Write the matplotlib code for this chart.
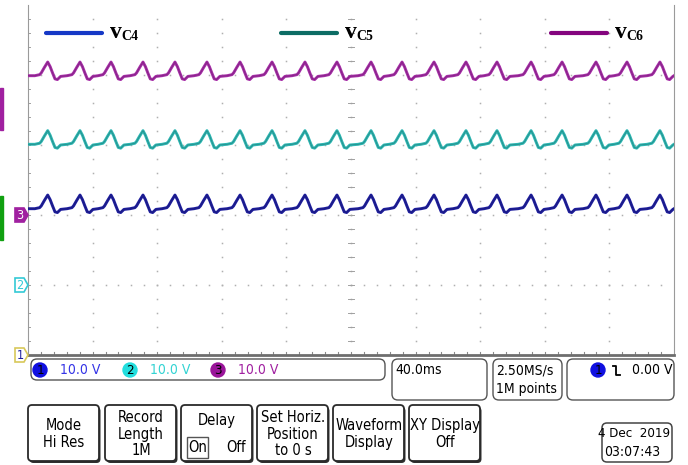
import matplotlib
matplotlib.use("Agg")
import matplotlib.pyplot as plt
import numpy as np
from matplotlib.patches import FancyBboxPatch, Circle, Polygon, Rectangle

# ripple peak times (ms from left edge, 40 ms/div)
peak_times = [12.2, 32.2, 51.4, 71.2, 91.0, 110.8, 131.3, 151.1, 171.5, 191.3,
              212.4, 231.6, 251.4, 271.2, 290.4, 311.5, 330.7, 351.7, 370.9, 391.3]

# shape of one ripple around its peak: time offset (ms), deviation from dc level (V)
ripple_dt = [-8.0, -5.0, -4.0, -2.0, 0.0, 1.5, 3.0, 4.5, 6.0, 8.0]
ripple_dv = [0.0, 0.15, 0.4, 1.2, 1.95, 1.3, 0.4, -0.45, -0.55, -0.1]

# channels: 1 = blue, 2 = cyan, 3 = magenta
ch_names = ["1", "2", "3"]
ch_dc = [20.9, 20.1, 19.9]        # V
ch_ground = [0, 1, 2]             # ground marker, divisions from bottom
ch_scale = ["10.0 V", "10.0 V", "10.0 V"]
ch_trace_colors = ["#1c1c9e", "#2bb6b2", "#a52aa6"]
ch_text_colors = ["#3434e6", "#33d3d3", "#a020a0"]
ch_badge_colors = ["#1010e0", "#22dede", "#9a149a"]

legend_names = ["C4", "C5", "C6"]
legend_colors = ["#1538c6", "#0c6c64", "#84047e"]

time_per_div = 40.0
volt_per_div = 10.0

menu_labels = ["Mode\nHi Res", "Record\nLength\n1M", "Delay", "Set Horiz.\nPosition\nto 0 s",
               "Waveform\nDisplay", "XY Display\nOff"]

W, H = 688, 465
fig = plt.figure(figsize=(W / 100, H / 100), dpi=100)
fig.patch.set_facecolor("white")

# screen graticule: 10 x 5 divisions
x0, x1, y0, y1 = 28, 674, 5, 355
ax = fig.add_axes([x0 / W, 1 - y1 / H, (x1 - x0) / W, (y1 - y0) / H])
ax.set_xlim(0, 10 * time_per_div)
ax.set_ylim(0, 5)
ax.set_xticks([])
ax.set_yticks([])
ax.spines["top"].set_visible(False)
ax.spines["left"].set_color("#9a9a9a")
ax.spines["right"].set_color("#9a9a9a")
ax.spines["bottom"].set_color("#6e6e6e")
ax.spines["bottom"].set_linewidth(2.0)

# dotted grid
gx = np.arange(1, 10) * time_per_div
gy = np.arange(0.2, 5.0, 0.2)
X, Y = np.meshgrid(gx, gy)
ax.plot(X.ravel(), Y.ravel(), ls="none", marker="s", ms=1.1, mec="none", mfc="#b0b0b0")
hx = np.arange(0.2, 10.0, 0.2) * time_per_div
hy = np.arange(1, 5)
X, Y = np.meshgrid(hx, hy)
ax.plot(X.ravel(), Y.ravel(), ls="none", marker="s", ms=1.1, mec="none", mfc="#b0b0b0")
# minor ticks on the bottom edge and the centre line
for xv in hx:
    ax.plot([xv, xv], [0, 0.04], color="#8a8a8a", lw=0.8)
for yv in gy:
    ax.plot([198, 202], [yv, yv], color="#a0a0a0", lw=0.7)
    ax.plot([0, 1.5], [yv, yv], color="#a0a0a0", lw=0.7)

# traces
for dc, gnd, col in zip(ch_dc, ch_ground, ch_trace_colors):
    t = [0.0]
    v = [dc]
    for p in peak_times:
        t += [p + d for d in ripple_dt]
        v += [dc + d for d in ripple_dv]
    t.append(10 * time_per_div)
    v.append(dc)
    y = gnd + np.array(v) / volt_per_div
    ax.plot(t, y, color=col, lw=2.1, solid_joinstyle="round", zorder=3)
    ax.plot(t, y, color="#202020", lw=0.5, alpha=0.3, zorder=4)

# overlay in pixel coordinates for the scope UI
ov = fig.add_axes([0, 0, 1, 1], zorder=5)
ov.set_xlim(0, W)
ov.set_ylim(H, 0)
ov.axis("off")
ov.patch.set_alpha(0)

ui = dict(family="DejaVu Sans", fontstretch="condensed")

# legend
leg_x = [46, 281, 551]
for lx, name, col in zip(leg_x, legend_names, legend_colors):
    ov.plot([lx, lx + 56], [33, 33], color=col, lw=3.0, solid_capstyle="round")
    ov.text(lx + 64, 38, "v", family=["Liberation Serif"], weight="bold", fontsize=17, va="baseline")
    ov.text(lx + 75, 40, name, family=["Liberation Serif"], weight="bold", fontsize=10, va="baseline")

# left edge colour bars
ov.add_patch(Rectangle((0, 88), 3, 42, color="#a020a0"))
ov.add_patch(Rectangle((0, 196), 3, 44, color="#10a010"))

# channel ground markers
marker_edge = ["#d8c85a", "#33c9d6", "#a020a0"]
marker_face = ["white", "white", "#a020a0"]
marker_text = ["#2020a0", "#33c9d6", "white"]
for name, gnd, ec, fc, tc in zip(ch_names, ch_ground, marker_edge, marker_face, marker_text):
    yc = y1 - gnd * (y1 - y0) / 5
    poly = Polygon([(15, yc - 7), (24, yc - 7), (28, yc), (24, yc + 7), (15, yc + 7)],
                   closed=True, fc=fc, ec=ec, lw=1.2)
    ov.add_patch(poly)
    ov.text(20, yc + 0.5, name, color=tc, fontsize=9, ha="center", va="center", **ui)

# channel scale bar
ov.add_patch(FancyBboxPatch((31, 359), 354, 21, boxstyle="round,pad=0,rounding_size=6",
                            fc="white", ec="#555555", lw=1.0))
badge_x = [40, 130, 218]
for bx, name, scale, bc, tc in zip(badge_x, ch_names, ch_scale, ch_badge_colors, ch_text_colors):
    ov.add_patch(Circle((bx, 370), 7, color=bc))
    ov.text(bx, 370.5, name, fontsize=9.5, ha="center", va="center", color="black", **ui)
    ov.text(bx + 20, 370, scale, fontsize=10, va="center", color=tc, **ui)

# horizontal / acquisition / trigger boxes
for bx, bw in [(392, 95), (493, 69), (567, 107)]:
    ov.add_patch(FancyBboxPatch((bx, 359), bw, 41, boxstyle="round,pad=0,rounding_size=6",
                                fc="white", ec="#555555", lw=1.0))
ov.text(395, 370, "40.0ms", fontsize=10, va="center", **ui)
ov.text(496, 370, "2.50MS/s", fontsize=10, va="center", **ui)
ov.text(496, 389, "1M points", fontsize=10, va="center", **ui)
ov.add_patch(Circle((598, 370), 7, color="#1010e0"))
ov.text(598, 370.5, "1", fontsize=9.5, ha="center", va="center", **ui)
ov.plot([613, 616, 616, 620], [366, 366, 375, 375], color="black", lw=1.3)
ov.text(672, 370, "0.00 V", fontsize=10, ha="right", va="center", **ui)

# bottom menu buttons
menu_x = [28, 105, 181, 257, 333, 409]
for mx, label in zip(menu_x, menu_labels):
    ov.add_patch(FancyBboxPatch((mx + 1.5, 407), 71, 56, boxstyle="round,pad=0,rounding_size=4",
                                fc="#303030", ec="none"))
    ov.add_patch(FancyBboxPatch((mx, 405), 71, 56, boxstyle="round,pad=0,rounding_size=4",
                                fc="white", ec="#2a2a2a", lw=1.3))
    if label == "Delay":
        ov.text(mx + 36, 420, label, fontsize=10.5, ha="center", va="center", **ui)
        ov.add_patch(Rectangle((mx + 6, 437), 21, 21, fc="white", ec="#555555", lw=1.0))
        ov.text(mx + 16.5, 447.5, "On", fontsize=10.5, ha="center", va="center", **ui)
        ov.text(mx + 55, 447.5, "Off", fontsize=10.5, ha="center", va="center", **ui)
    else:
        ov.text(mx + 36, 434, label, fontsize=10.5, ha="center", va="center",
                linespacing=1.1, **ui)

# date box
ov.add_patch(FancyBboxPatch((602, 423), 70, 39, boxstyle="round,pad=0,rounding_size=5",
                            fc="white", ec="#444444", lw=1.1))
ov.text(670, 433, "4 Dec  2019", fontsize=9.5, ha="right", va="center", **ui)
ov.text(604, 452, "03:07:43", fontsize=10, ha="left", va="center", **ui)

fig.savefig("out.png", dpi=100)
